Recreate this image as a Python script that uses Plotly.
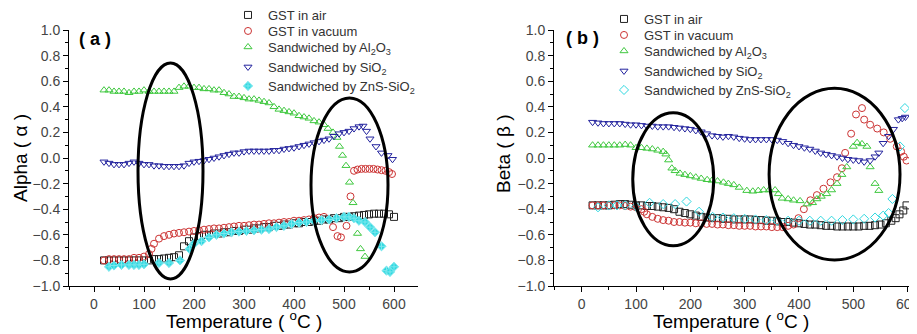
import plotly.graph_objects as go

# ---------------- data: panel (a) Alpha ----------------
a_air_x = [20,30,40,50,60,70,80,90,100,110,120,130,140,150,160,170,180,190,200,210,
           220,230,240,250,260,270,280,290,300,310,320,330,340,350,360,370,380,390,400,410,
           420,430,440,450,460,470,480,490,500,510,520,530,540,550,560,570,580,590,600]
a_air_y = [-0.80,-0.80,-0.80,-0.80,-0.80,-0.80,-0.80,-0.80,-0.80,-0.80,
           -0.79,-0.79,-0.785,-0.78,-0.775,-0.76,-0.69,-0.65,-0.62,-0.61,
           -0.60,-0.60,-0.59,-0.59,-0.58,-0.58,-0.57,-0.57,-0.56,-0.56,
           -0.55,-0.55,-0.54,-0.54,-0.53,-0.53,-0.52,-0.52,-0.51,-0.51,
           -0.50,-0.50,-0.49,-0.49,-0.48,-0.48,-0.47,-0.47,-0.46,-0.46,
           -0.455,-0.45,-0.445,-0.44,-0.435,-0.435,-0.435,-0.44,-0.46]

a_vac_x = [20,30,40,50,60,70,80,90,100,110,115,120,130,140,150,160,170,180,190,200,
           210,220,230,240,250,260,270,280,290,300,310,320,330,340,350,360,370,380,390,400,
           410,420,430,440,450,460,478,487,494,505,513,520,527,535,543,551,559,567,575,583,
           590,596]
a_vac_y = [-0.80,-0.79,-0.79,-0.79,-0.79,-0.79,-0.78,-0.78,-0.77,-0.75,
           -0.71,-0.67,-0.63,-0.61,-0.60,-0.59,-0.585,-0.58,-0.575,-0.57,
           -0.565,-0.56,-0.555,-0.55,-0.55,-0.545,-0.54,-0.535,-0.53,-0.53,
           -0.525,-0.52,-0.52,-0.515,-0.51,-0.51,-0.505,-0.50,-0.50,-0.49,
           -0.49,-0.485,-0.48,-0.47,-0.465,-0.46,-0.54,-0.61,-0.62,-0.53,
           -0.30,-0.10,-0.09,-0.085,-0.085,-0.085,-0.085,-0.09,-0.095,-0.10,
           -0.11,-0.125]

a_al_x = [20,30,40,50,60,70,80,90,100,110,120,130,140,150,160,170,180,190,200,210,
          220,230,240,250,260,270,280,290,300,310,320,330,340,350,360,370,380,390,400,410,
          420,430,440,450,460,468,478,486,491,497,504,511,518,527,533,542]
a_al_y = [0.53,0.53,0.52,0.52,0.52,0.51,0.52,0.52,0.53,0.52,
          0.52,0.52,0.52,0.52,0.52,0.55,0.56,0.56,0.55,0.55,
          0.54,0.54,0.53,0.53,0.51,0.50,0.48,0.48,0.47,0.46,
          0.46,0.45,0.44,0.43,0.40,0.38,0.37,0.36,0.35,0.33,
          0.32,0.31,0.29,0.28,0.26,0.23,0.20,0.16,0.09,0.02,
          -0.06,-0.19,-0.35,-0.59,-0.71,-0.77]

a_si_x = [20,30,40,50,60,70,80,90,100,110,120,130,140,150,160,170,180,190,200,210,
          220,230,240,250,260,270,280,290,300,310,320,330,340,350,360,370,380,390,400,410,
          420,430,440,450,460,470,480,490,500,510,520,530,538,545,552,564,575,588,597]
a_si_y = [-0.03,-0.04,-0.05,-0.05,-0.05,-0.04,-0.03,-0.04,-0.05,-0.05,
          -0.06,-0.06,-0.065,-0.065,-0.065,-0.065,-0.06,-0.04,-0.03,-0.025,
          -0.02,-0.01,0.00,0.01,0.02,0.03,0.04,0.04,0.05,0.055,
          0.055,0.055,0.055,0.055,0.06,0.06,0.07,0.075,0.08,0.09,
          0.10,0.11,0.12,0.13,0.14,0.15,0.17,0.19,0.20,0.21,
          0.23,0.245,0.25,0.21,0.15,0.09,0.04,0.02,-0.01]

a_zns_x = [30,40,55,70,80,90,100,130,150,172,191,200,215,230,245,260,275,290,305,320,
           335,350,365,380,395,410,425,440,455,470,485,500,510,520,530,542,552,562,575,585,
           592,600]
a_zns_y = [-0.85,-0.84,-0.835,-0.835,-0.835,-0.835,-0.83,-0.82,-0.82,-0.80,
           -0.71,-0.67,-0.65,-0.62,-0.60,-0.59,-0.58,-0.575,-0.57,-0.565,
           -0.56,-0.555,-0.54,-0.53,-0.515,-0.505,-0.50,-0.49,-0.485,-0.48,
           -0.47,-0.46,-0.46,-0.47,-0.49,-0.50,-0.54,-0.58,-0.69,-0.88,
           -0.89,-0.85]

# ---------------- data: panel (b) Beta ----------------
b_air_x = [20,30,40,50,60,70,80,90,100,110,120,130,140,150,160,170,180,190,200,210,
           220,230,240,250,260,270,280,290,300,310,320,330,340,350,360,370,380,390,400,410,
           420,430,440,450,460,470,480,490,500,510,520,530,540,550,560,570,578,585,592,598]
b_air_y = [-0.37,-0.37,-0.37,-0.37,-0.365,-0.36,-0.36,-0.365,-0.37,-0.37,
           -0.375,-0.375,-0.38,-0.385,-0.39,-0.40,-0.42,-0.43,-0.44,-0.45,
           -0.46,-0.465,-0.47,-0.47,-0.475,-0.475,-0.48,-0.48,-0.48,-0.48,
           -0.485,-0.485,-0.49,-0.49,-0.495,-0.50,-0.50,-0.505,-0.51,-0.515,
           -0.52,-0.52,-0.525,-0.53,-0.53,-0.535,-0.535,-0.535,-0.535,-0.535,
           -0.53,-0.53,-0.525,-0.52,-0.51,-0.49,-0.47,-0.44,-0.41,-0.37]

b_vac_x = [20,30,40,50,60,70,80,90,100,110,115,120,130,140,150,160,170,180,190,200,
           210,220,230,240,250,260,270,280,290,300,310,320,330,340,350,360,370,380,390,399,
           409,421,433,445,458,470,479,485,496,505,516,520,531,544,556,568,580,588,593,598]
b_vac_y = [-0.37,-0.37,-0.37,-0.37,-0.37,-0.37,-0.375,-0.38,-0.385,-0.40,
           -0.42,-0.44,-0.46,-0.475,-0.485,-0.49,-0.50,-0.50,-0.505,-0.505,
           -0.51,-0.51,-0.515,-0.515,-0.52,-0.52,-0.525,-0.525,-0.53,-0.53,
           -0.53,-0.535,-0.535,-0.535,-0.54,-0.54,-0.54,-0.53,-0.52,-0.47,
           -0.40,-0.33,-0.29,-0.24,-0.19,-0.15,-0.08,0.04,0.19,0.34,
           0.39,0.30,0.26,0.23,0.20,0.15,0.09,0.05,0.01,-0.02]

b_al_x = [20,30,40,50,60,70,80,90,100,110,120,130,140,150,155,160,166,172,181,190,
          200,210,220,231,240,250,261,270,280,290,304,315,325,335,345,356,362,369,380,390,
          402,415,425,433,441,451,460,470,479,488,500,507,516,525,531,540,547]
b_al_y = [0.10,0.10,0.10,0.10,0.10,0.10,0.105,0.10,0.08,0.08,
          0.075,0.07,0.06,0.05,0.03,-0.016,-0.08,-0.10,-0.12,-0.13,
          -0.14,-0.15,-0.16,-0.17,-0.175,-0.18,-0.19,-0.20,-0.21,-0.23,
          -0.255,-0.26,-0.255,-0.25,-0.25,-0.25,-0.28,-0.315,-0.32,-0.33,
          -0.335,-0.36,-0.35,-0.32,-0.30,-0.28,-0.25,-0.20,-0.13,-0.07,
          0.09,0.12,0.11,0.09,-0.07,-0.20,-0.255]

b_si_x = [20,30,40,50,60,70,80,90,100,110,120,130,140,150,160,170,180,190,200,210,
          220,230,240,250,260,270,280,290,300,310,320,330,340,350,360,370,380,390,400,410,
          420,430,440,450,460,470,480,490,500,510,520,531,540,547,555,565,574,583,590,596]
b_si_y = [0.28,0.275,0.27,0.27,0.27,0.27,0.265,0.26,0.26,0.255,
          0.25,0.25,0.245,0.245,0.245,0.24,0.235,0.23,0.225,0.215,
          0.205,0.19,0.175,0.17,0.165,0.17,0.165,0.155,0.15,0.145,
          0.145,0.145,0.145,0.145,0.14,0.13,0.115,0.10,0.09,0.08,
          0.07,0.055,0.04,0.03,0.02,0.01,0.00,-0.01,-0.015,-0.02,
          -0.03,-0.02,0.01,0.04,0.115,0.17,0.225,0.30,0.31,0.32]

b_zns_x = [30,50,65,80,100,125,150,172,193,216,241,260,280,300,320,340,360,380,400,420,
           440,460,480,500,520,540,555,565,572,586,595]
b_zns_y = [-0.385,-0.37,-0.37,-0.37,-0.38,-0.35,-0.36,-0.36,-0.34,-0.42,
           -0.46,-0.465,-0.47,-0.475,-0.48,-0.485,-0.49,-0.49,-0.49,-0.49,
           -0.49,-0.49,-0.485,-0.48,-0.475,-0.465,-0.45,-0.43,-0.32,0.09,
           0.39]

series_names = ["GST in air", "GST in vacuum",
                "Sandwiched by Al<sub>2</sub>O<sub>3</sub>",
                "Sandwiched by SiO<sub>2</sub>",
                "Sandwiched by ZnS-SiO<sub>2</sub>"]

x_ticks = [0, 100, 200, 300, 400, 500, 600]

# ellipses (data coordinates): x0, x1, y0, y1
a_ellipses = [(88, 218, -0.945, 0.742), (434, 588, -0.89, 0.469)]
b_ellipses = [(94, 243, -0.685, 0.354), (345, 586, -0.797, 0.544)]

# ---------------- styles / layout ----------------
colors = ["#222222", "#cc3333", "#3fc83f", "#23239e", "#2ed8e0"]
symbols_a = ["square-open", "circle-open", "triangle-up-open", "triangle-down-open", "diamond-cross"]
symbols_b = ["square-open", "circle-open", "triangle-up-open", "triangle-down-open", "diamond-open"]

W, H = 917, 334
OFF = 8  # default page margin around the plot div
FONT = "Arial, Liberation Sans, sans-serif"


def fx(px):
    return (px - OFF) / W


def fy(py):
    return 1 - (py - OFF) / H


# legend entry positions in page pixels
legend_rows_a = [15, 31, 47, 67, 86]
legend_rows_b = [19, 35, 51, 71, 90]
legend_left_a = 250 - 22
legend_left_b = 626 - 22

fig = go.Figure()
panel_a = [(a_air_x, a_air_y), (a_vac_x, a_vac_y), (a_al_x, a_al_y), (a_si_x, a_si_y), (a_zns_x, a_zns_y)]
panel_b = [(b_air_x, b_air_y), (b_vac_x, b_vac_y), (b_al_x, b_al_y), (b_si_x, b_si_y), (b_zns_x, b_zns_y)]

legends = {}
for p, (panel, syms, xa, ya, rows, lx) in enumerate([
        (panel_a, symbols_a, "x", "y", legend_rows_a, legend_left_a),
        (panel_b, symbols_b, "x2", "y2", legend_rows_b, legend_left_b)]):
    for i, (xs, ys) in enumerate(panel):
        k = p * 5 + i + 1
        lname = "legend" if k == 1 else f"legend{k}"
        line_col = colors[i] if (i < 4 or p == 1) else "#7de8ee"
        fig.add_trace(go.Scatter(
            x=xs, y=ys, mode="markers", name=series_names[i],
            xaxis=xa, yaxis=ya, legend=lname, showlegend=True,
            marker=dict(symbol=syms[i], size=7, color=colors[i],
                        line=dict(color=line_col, width=1)),
        ))
        legends[lname] = dict(
            x=fx(lx), y=fy(rows[i]),
            xanchor="left", yanchor="middle", bgcolor="rgba(0,0,0,0)",
            font=dict(family=FONT, size=13, color="#333333"),
            itemwidth=30, borderwidth=0, visible=True)

shapes = []
for (x0, x1, y0, y1) in a_ellipses:
    shapes.append(dict(type="circle", xref="x", yref="y", x0=x0, x1=x1, y0=y0, y1=y1,
                       line=dict(color="black", width=3)))
for (x0, x1, y0, y1) in b_ellipses:
    shapes.append(dict(type="circle", xref="x2", yref="y2", x0=x0, x1=x1, y0=y0, y1=y1,
                       line=dict(color="black", width=3)))

tick_font = dict(family=FONT, size=14, color="#444444")
common_x = dict(showline=True, linecolor="black", linewidth=1, showgrid=False, zeroline=False,
                ticks="outside", ticklen=5, tickcolor="black", tickvals=x_ticks,
                minor=dict(ticks="outside", ticklen=3, dtick=50, tick0=0, tickcolor="black", showgrid=False),
                tickfont=tick_font, mirror=False, automargin=False)
common_y = dict(showline=True, linecolor="black", linewidth=1, showgrid=False, zeroline=False,
                ticks="outside", ticklen=5, tickcolor="black", range=[-1.0, 1.0], dtick=0.2, tick0=0,
                tickformat=".1f",
                minor=dict(ticks="outside", ticklen=3, dtick=0.1, tick0=0, tickcolor="black", showgrid=False),
                tickfont=tick_font, mirror=False, automargin=False)

y_dom = [fy(286), fy(30)]
fig.update_layout(
    width=W, height=H,
    showlegend=True,
    margin=dict(l=0, r=0, t=0, b=0, autoexpand=False),
    paper_bgcolor="white", plot_bgcolor="white",
    xaxis=dict(domain=[fx(69), fx(418)], range=[-50, 648], anchor="y", **common_x),
    yaxis=dict(domain=y_dom, anchor="x", **common_y),
    xaxis2=dict(domain=[fx(554), 1.0], range=[-51, 632], anchor="y2", **common_x),
    yaxis2=dict(domain=y_dom, anchor="x2", **common_y),
    shapes=shapes,
    font=dict(family=FONT),
    **legends,
)

title_font = dict(family=FONT, size=19, color="black")
annotations = [
    dict(text="Alpha ( α )", x=fx(20), y=fy(158), textangle=-90, font=title_font),
    dict(text="Beta ( β )", x=fx(503), y=fy(154), textangle=-90, font=title_font),
    dict(text="Temperature ( <sup>o</sup>C )", x=fx(244), y=fy(320), font=title_font),
    dict(text="Temperature ( <sup>o</sup>C )", x=fx(731), y=fy(320), font=title_font),
    dict(text="<b>( a )</b>", x=fx(95), y=fy(39), font=dict(family=FONT, size=18, color="black")),
    dict(text="<b>( b )</b>", x=fx(582), y=fy(38), font=dict(family=FONT, size=18, color="black")),
]
for a in annotations:
    a.update(xref="paper", yref="paper", showarrow=False, xanchor="center", yanchor="middle")
fig.update_layout(annotations=annotations)

fig.write_html("out.html")
